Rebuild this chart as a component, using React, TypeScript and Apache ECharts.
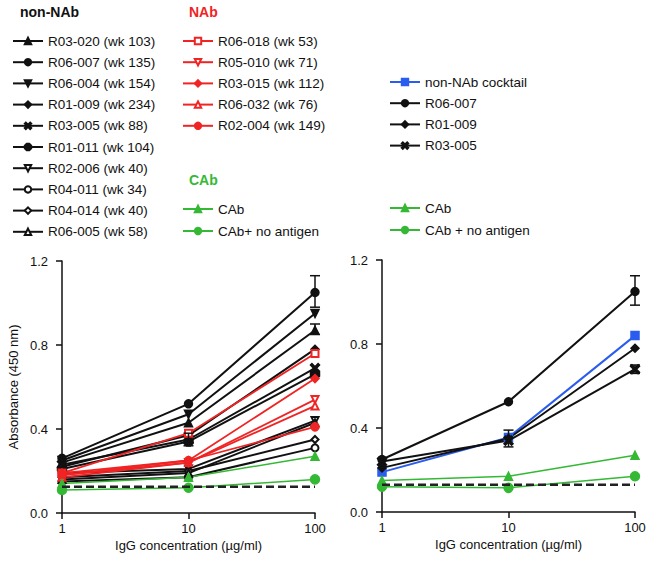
import React, { useEffect, useRef } from 'react';
import * as echarts from 'echarts';

const concentrations = [1, 10, 100];
const yTicks = [0, 0.4, 0.8, 1.2];

// ---- Left panel: non-NAb (black)
const nonNAbNames = [
  'R03-020 (wk 103)', 'R06-007 (wk 135)', 'R06-004 (wk 154)', 'R01-009 (wk 234)',
  'R03-005 (wk 88)', 'R01-011 (wk 104)', 'R02-006 (wk 40)', 'R04-011 (wk 34)',
  'R04-014 (wk 40)', 'R06-005 (wk 58)',
];
const nonNAbValues = [
  [0.24, 0.43, 0.87],
  [0.26, 0.52, 1.05],
  [0.25, 0.47, 0.95],
  [0.22, 0.37, 0.78],
  [0.23, 0.35, 0.69],
  [0.21, 0.34, 0.66],
  [0.19, 0.21, 0.44],
  [0.15, 0.17, 0.31],
  [0.17, 0.20, 0.35],
  [0.16, 0.19, 0.43],
];

// ---- Left panel: NAb (red)
const nabNames = ['R06-018 (wk 53)', 'R05-010 (wk 71)', 'R03-015 (wk 112)', 'R06-032 (wk 76)', 'R02-004 (wk 149)'];
const nabValues = [
  [0.19, 0.38, 0.76],
  [0.18, 0.24, 0.54],
  [0.19, 0.25, 0.64],
  [0.17, 0.24, 0.51],
  [0.18, 0.25, 0.41],
];

// ---- Controls (green)
const leftCabNames = ['CAb', 'CAb+ no antigen'];
const leftCabValues = [
  [0.14, 0.17, 0.27],
  [0.11, 0.12, 0.16],
];
const backgroundLevel = 0.125;

// ---- Right panel
const rightNames = ['non-NAb cocktail', 'R06-007', 'R01-009', 'R03-005'];
const rightValues = [
  [0.19, 0.355, 0.84],
  [0.25, 0.525, 1.05],
  [0.21, 0.35, 0.78],
  [0.24, 0.34, 0.68],
];
const rightCabNames = ['CAb', 'CAb + no antigen'];
const rightCabValues = [
  [0.15, 0.17, 0.27],
  [0.12, 0.115, 0.17],
];
const rightBackground = 0.13;

// error bars: [concentration, low, high]
const leftErrorBars = [[100, 0.98, 1.13], [100, 0.85, 0.9], [10, 0.32, 0.38]];
const rightErrorBars = [[100, 0.985, 1.125], [10, 0.31, 0.39], [100, 0.66, 0.7]];

const BLACK = '#111111';
const RED = '#f02424';
const GREEN = '#35b935';
const BLUE = '#2b5cf0';
const FONT = '"Liberation Sans", Arial, Helvetica, sans-serif';

const XSHAPE = 'path://M0,1.6 L1.6,0 L5,3.4 L8.4,0 L10,1.6 L6.6,5 L10,8.4 L8.4,10 L5,6.6 L1.6,10 L0,8.4 L3.4,5 Z';
const OCTAGON = 'path://M3,0 L7,0 L10,3 L10,7 L7,10 L3,10 L0,7 L0,3 Z';

const nonNAbSymbols: [string, number, number][] = [
  ['triangle', 0, 8],
  ['circle', 0, 8],
  ['triangle', 180, 8],
  ['diamond', 0, 8],
  [XSHAPE, 0, 9],
  [OCTAGON, 0, 9],
  ['emptyTriangle', 180, 7],
  ['emptyCircle', 0, 7],
  ['emptyDiamond', 0, 7],
  ['emptyTriangle', 0, 7],
];
const nabSymbols: [string, number, number][] = [
  ['emptyRect', 0, 7],
  ['emptyTriangle', 180, 7],
  ['diamond', 0, 8],
  ['emptyTriangle', 0, 7],
  ['circle', 0, 8],
];
const cabSymbols: [string, number, number][] = [
  ['triangle', 0, 8],
  ['circle', 0, 9],
];
const rightSymbols: [string, number, number][] = [
  ['rect', 0, 8],
  ['circle', 0, 8],
  ['diamond', 0, 8],
  [XSHAPE, 0, 9],
];
const rightColors = [BLUE, BLACK, BLACK, BLACK];

function lineSeries(name: string, values: number[], color: string, sym: [string, number, number], grid: number, width = 2) {
  return {
    type: 'line',
    name,
    xAxisIndex: grid,
    yAxisIndex: grid,
    data: concentrations.map((c, i) => [c, values[i]]),
    symbol: sym[0],
    symbolRotate: sym[1],
    symbolSize: sym[2],
    showAllSymbol: true,
    itemStyle: { color, borderColor: color, borderWidth: 1.5 },
    lineStyle: { color, width },
    emphasis: { disabled: true },
  };
}

function dashedSeries(level: number, grid: number) {
  return {
    type: 'line',
    name: 'background' + grid,
    xAxisIndex: grid,
    yAxisIndex: grid,
    data: [[1, level], [100, level]],
    showSymbol: false,
    symbol: 'none',
    lineStyle: { color: '#222', width: 2.6, type: [8, 4] },
    z: 5,
    emphasis: { disabled: true },
  };
}

function errorSeries(data: number[][], grid: number) {
  return {
    type: 'custom',
    name: 'err' + grid,
    xAxisIndex: grid,
    yAxisIndex: grid,
    coordinateSystem: 'cartesian2d',
    encode: { x: 0, y: [1, 2] },
    data,
    z: 4,
    renderItem: (params: any, api: any) => {
      const x = api.value(0);
      const p1 = api.coord([x, api.value(1)]);
      const p2 = api.coord([x, api.value(2)]);
      const w = 5;
      const style = { stroke: BLACK, lineWidth: 1.5 };
      return {
        type: 'group',
        children: [
          { type: 'line', shape: { x1: p1[0], y1: p1[1], x2: p2[0], y2: p2[1] }, style },
          { type: 'line', shape: { x1: p1[0] - w, y1: p1[1], x2: p1[0] + w, y2: p1[1] }, style },
          { type: 'line', shape: { x1: p2[0] - w, y1: p2[1], x2: p2[0] + w, y2: p2[1] }, style },
        ],
      };
    },
  };
}

function xAxis(grid: number) {
  return {
    type: 'log',
    logBase: 10,
    gridIndex: grid,
    min: 1,
    max: 100,
    name: 'IgG concentration (µg/ml)',
    nameLocation: 'middle',
    nameGap: 26,
    nameTextStyle: { fontSize: 13, color: BLACK, fontFamily: FONT },
    axisLine: { show: true, onZero: false, lineStyle: { color: BLACK, width: 1.5 } },
    axisTick: { show: true, length: 6, lineStyle: { color: BLACK, width: 1.5 } },
    minorTick: { show: false },
    splitLine: { show: false },
    axisLabel: { fontSize: 13, color: BLACK, fontFamily: FONT, margin: 9 },
  };
}

function yAxis(grid: number, withName: boolean) {
  return {
    type: 'value',
    gridIndex: grid,
    min: yTicks[0],
    max: yTicks[yTicks.length - 1],
    interval: yTicks[1] - yTicks[0],
    name: withName ? 'Absorbance (450 nm)' : '',
    nameLocation: 'middle',
    nameGap: 42,
    nameTextStyle: { fontSize: 13, color: BLACK, fontFamily: FONT },
    axisLine: { show: true, onZero: false, lineStyle: { color: BLACK, width: 1.5 } },
    axisTick: { show: true, length: 6, lineStyle: { color: BLACK, width: 1.5 } },
    splitLine: { show: false },
    axisLabel: {
      fontSize: 13,
      color: BLACK,
      fontFamily: FONT,
      margin: 14,
      formatter: (v: number) => v.toFixed(1),
    },
  };
}

function legend(names: string[], left: number, top: number, gap: number) {
  return {
    data: names,
    orient: 'vertical',
    left,
    top,
    padding: 0,
    itemWidth: 30,
    itemHeight: 8,
    itemGap: gap,
    selectedMode: false,
    textStyle: { fontSize: 13.5, color: BLACK, fontFamily: FONT },
  };
}

export default function App() {
  const ref = useRef<HTMLDivElement>(null);
  useEffect(() => {
    if (!ref.current) return;
    const chart = echarts.init(ref.current, undefined, { renderer: 'svg' });
    const series: any[] = [];
    nonNAbNames.forEach((n, i) => series.push(lineSeries(n, nonNAbValues[i], BLACK, nonNAbSymbols[i], 0)));
    nabNames.forEach((n, i) => series.push(lineSeries(n, nabValues[i], RED, nabSymbols[i], 0, 1.8)));
    leftCabNames.forEach((n, i) => series.push(lineSeries(n, leftCabValues[i], GREEN, cabSymbols[i], 0, 1.5)));
    series.push(dashedSeries(backgroundLevel, 0));
    series.push(errorSeries(leftErrorBars, 0));
    rightNames.forEach((n, i) => series.push(lineSeries(n, rightValues[i], rightColors[i], rightSymbols[i], 1)));
    rightCabNames.forEach((n, i) => series.push(lineSeries(n, rightCabValues[i], GREEN, cabSymbols[i], 1, 1.5)));
    series.push(dashedSeries(rightBackground, 1));
    series.push(errorSeries(rightErrorBars, 1));

    chart.setOption({
      animation: false,
      textStyle: { fontFamily: FONT },
      grid: [
        { left: 62, top: 261, width: 253, height: 252 },
        { left: 382, top: 260, width: 253, height: 252 },
      ],
      xAxis: [xAxis(0), xAxis(1)],
      yAxis: [yAxis(0, true), yAxis(1, false)],
      legend: [
        legend(nonNAbNames, 12, 34, 7.2),
        legend(nabNames, 182, 34, 7.2),
        legend(leftCabNames, 182, 202, 8),
        legend(rightNames, 389, 75, 7.2),
        legend(rightCabNames, 389, 201, 8),
      ],
      graphic: [
        { type: 'text', left: 20, top: 5, style: { text: 'non-NAb', font: `bold 14px ${FONT}`, fill: BLACK } },
        { type: 'text', left: 189, top: 5, style: { text: 'NAb', font: `bold 14px ${FONT}`, fill: RED } },
        { type: 'text', left: 189, top: 173, style: { text: 'CAb', font: `bold 14px ${FONT}`, fill: GREEN } },
      ],
      series,
    });
    return () => chart.dispose();
  }, []);
  return <div ref={ref} style={{ position: 'absolute', left: 0, top: 0, width: 653, height: 562 }} />;
}
